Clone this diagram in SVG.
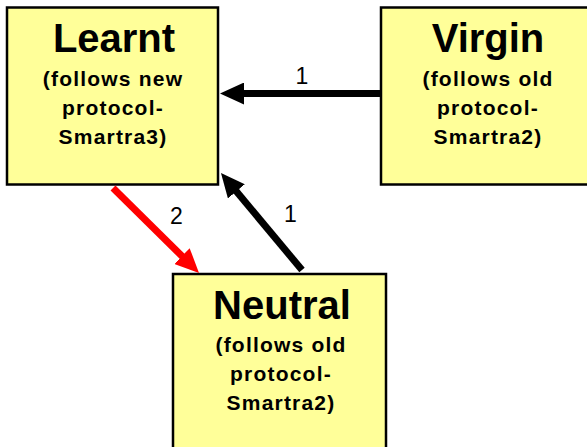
<svg xmlns="http://www.w3.org/2000/svg" width="587" height="447" viewBox="0 0 587 447">
  <style>
    .box { fill: #FFFF99; stroke: #000000; stroke-width: 2.5; }
    .title { font-family: "Liberation Sans", Arial, sans-serif; font-weight: bold; font-size: 40px; fill: #000000; text-anchor: middle; }
    .sub { font-family: "Liberation Sans", Arial, sans-serif; font-weight: bold; font-size: 21px; letter-spacing: 1.2px; fill: #000000; text-anchor: middle; }
    .lbl { font-family: "Liberation Sans", Arial, sans-serif; font-size: 23px; fill: #000000; text-anchor: middle; }
    .edge { stroke-width: 7; fill: none; }
  </style>
  <defs>
    <marker id="headBlack" markerUnits="userSpaceOnUse" markerWidth="24" markerHeight="22" refX="4" refY="11" orient="auto" viewBox="0 0 24 22">
      <path d="M0,0 L24,11 L0,22 Z" fill="#000000"/>
    </marker>
    <marker id="headRed" markerUnits="userSpaceOnUse" markerWidth="24" markerHeight="22" refX="4" refY="11" orient="auto" viewBox="0 0 24 22">
      <path d="M0,0 L24,11 L0,22 Z" fill="#FF0000"/>
    </marker>
  </defs>

  <rect width="587" height="447" fill="#FFFFFF"/>

  <g id="learnt">
    <rect class="box" x="7" y="7.5" width="211" height="177"/>
    <text class="title" x="114" y="52">Learnt</text>
    <text class="sub" x="113" y="86">(follows new</text>
    <text class="sub" x="113" y="115">protocol-</text>
    <text class="sub" x="113" y="144">Smartra3)</text>
  </g>

  <g id="virgin">
    <rect class="box" x="381" y="7.5" width="214" height="177"/>
    <text class="title" x="488" y="52">Virgin</text>
    <text class="sub" x="488" y="86">(follows old</text>
    <text class="sub" x="488" y="115">protocol-</text>
    <text class="sub" x="488" y="144">Smartra2)</text>
  </g>

  <g id="neutral">
    <rect class="box" x="173" y="274" width="213" height="190"/>
    <text class="title" x="282" y="319">Neutral</text>
    <text class="sub" x="281" y="352">(follows old</text>
    <text class="sub" x="281" y="381">protocol-</text>
    <text class="sub" x="281" y="410">Smartra2)</text>
  </g>

  <g id="connectors">
    <line class="edge" stroke="#000000" x1="382" y1="93.5" x2="240" y2="93.5" marker-end="url(#headBlack)"/>
    <line class="edge" stroke="#000000" x1="302" y1="270" x2="233.8" y2="188.3" marker-end="url(#headBlack)"/>
    <line class="edge" stroke="#FF0000" x1="113" y1="188" x2="184.8" y2="258.9" marker-end="url(#headRed)"/>
    <text class="lbl" x="302" y="84">1</text>
    <text class="lbl" x="290.5" y="222">1</text>
    <text class="lbl" x="176.5" y="224">2</text>
  </g>
</svg>
